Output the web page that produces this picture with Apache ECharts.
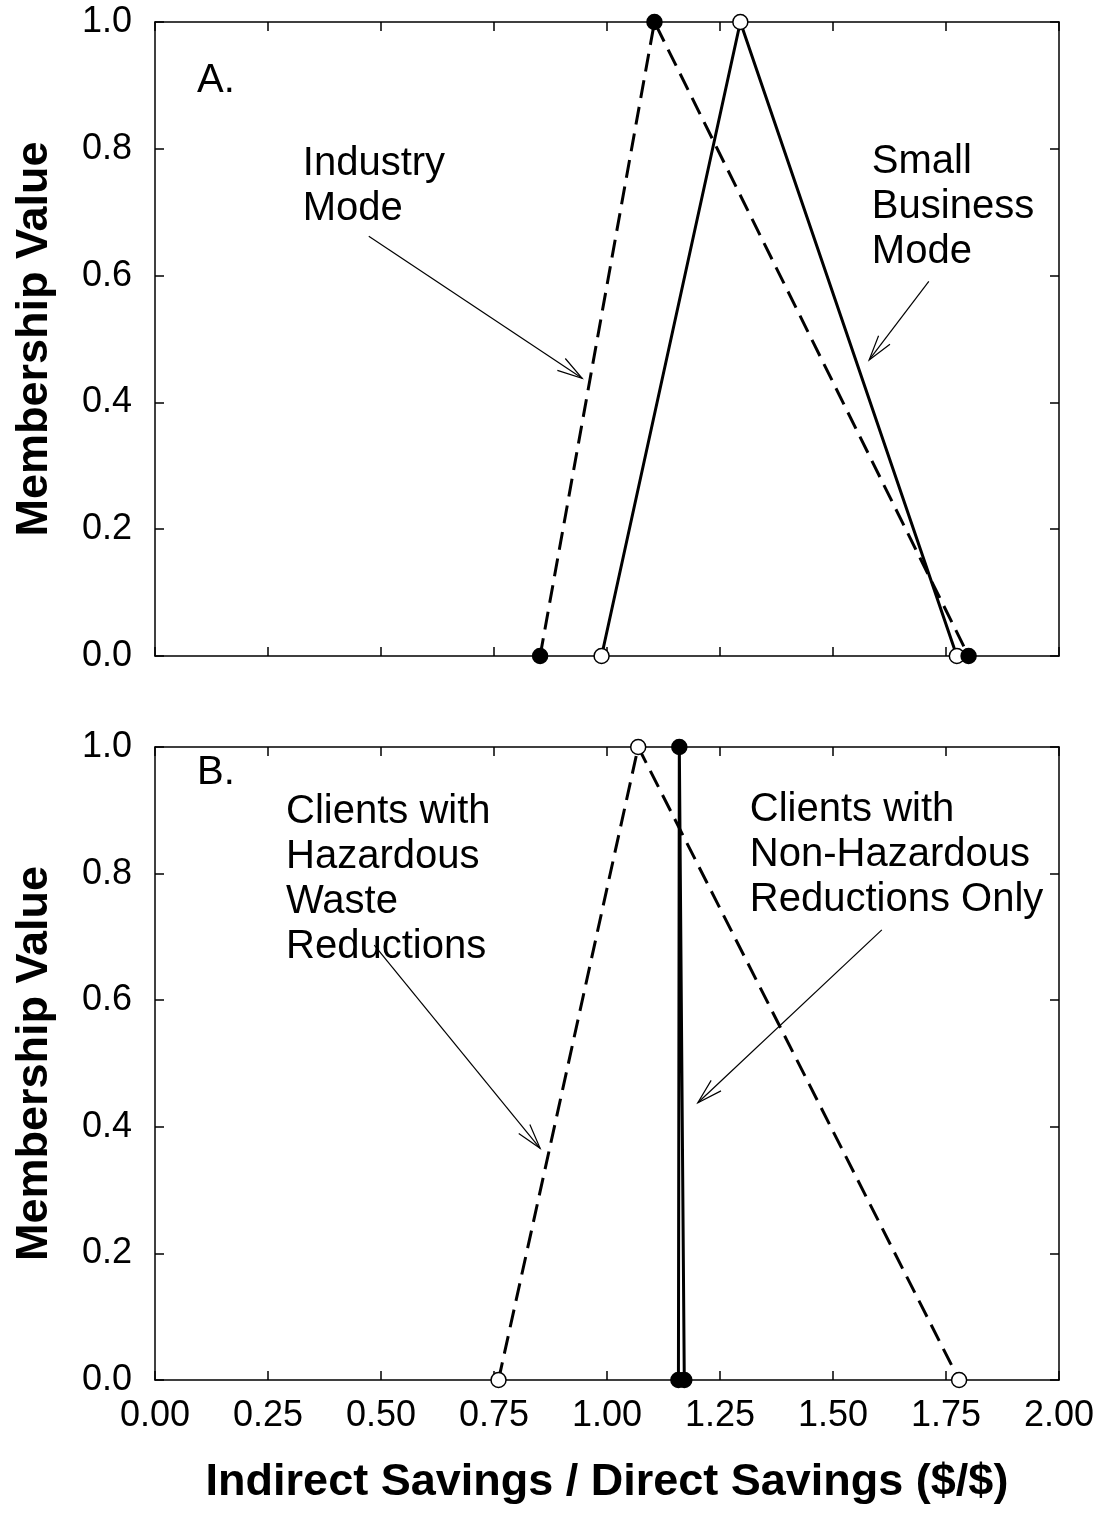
<!DOCTYPE html>
<html>
<head>
<meta charset="utf-8">
<script src="https://cdn.jsdelivr.net/npm/echarts@6/dist/echarts.min.js"></script>
<style>
html,body{margin:0;padding:0;background:#fff;}
#chart{width:1104px;height:1522px;}
</style>
</head>
<body>
<div id="chart"></div>
<script>
// ---- data ----
const xTicks = [0.00, 0.25, 0.50, 0.75, 1.00, 1.25, 1.50, 1.75, 2.00];
const yTicks = [0.0, 0.2, 0.4, 0.6, 0.8, 1.0];

// Panel A
const industryX = [0.852, 1.105, 1.800];
const industryY = [0, 1, 0];
const smallBizX = [0.988, 1.295, 1.774];
const smallBizY = [0, 1, 0];

// Panel B
const hazardousX = [0.760, 1.069, 1.779];
const hazardousY = [0, 1, 0];
const nonHazX = [1.158, 1.160, 1.171];
const nonHazY = [0, 1, 0];

// annotation labels (panel, data-anchor of text block top-left)
const labels = [
  {grid: 0, text: 'A.', at: [0.093, 0.942]},
  {grid: 0, text: 'Industry\nMode', at: [0.327, 0.812]},
  {grid: 0, text: 'Small\nBusiness\nMode', at: [1.586, 0.815]},
  {grid: 1, text: 'B.', at: [0.093, 0.994]},
  {grid: 1, text: 'Clients with\nHazardous\nWaste\nReductions', at: [0.290, 0.933]},
  {grid: 1, text: 'Clients with\nNon-Hazardous\nReductions Only', at: [1.316, 0.936]}
];
// arrows: from -> to, data coords
const arrows = [
  {grid: 0, from: [0.473, 0.662], to: [0.945, 0.438]},
  {grid: 0, from: [1.712, 0.591], to: [1.580, 0.467]},
  {grid: 1, from: [0.485, 0.687], to: [0.852, 0.366]},
  {grid: 1, from: [1.608, 0.711], to: [1.201, 0.438]}
];

const pairs = (xs, ys) => xs.map((x, i) => [x, ys[i]]);

const FONT = '"Liberation Sans", Arial, Helvetica, sans-serif';
const black = '#000';

const chart = echarts.init(document.getElementById('chart'), null, {renderer: 'canvas'});

const grids = [
  {left: 155, top: 22, width: 904, height: 634},
  {left: 155, top: 747, width: 904, height: 633}
];

function xAxisFor(gi, pos, showLabels, withName) {
  return {
    type: 'value', gridIndex: gi, position: pos,
    min: xTicks[0], max: xTicks[xTicks.length - 1], interval: xTicks[1] - xTicks[0],
    axisLine: {show: true, onZero: false, lineStyle: {color: black, width: 1.5}},
    axisTick: {show: true, inside: true, length: 9, lineStyle: {color: black, width: 1.5}},
    axisLabel: {show: showLabels, color: black, fontSize: 36, fontFamily: FONT, margin: 18,
      formatter: v => v.toFixed(2)},
    splitLine: {show: false},
    name: withName ? 'Indirect Savings / Direct Savings ($/$)' : '',
    nameLocation: 'middle', nameGap: 80,
    nameTextStyle: {color: black, fontSize: 45, fontWeight: 'bold', fontFamily: FONT}
  };
}
function yAxisFor(gi, pos, showLabels) {
  return {
    type: 'value', gridIndex: gi, position: pos,
    min: yTicks[0], max: yTicks[yTicks.length - 1], interval: yTicks[1] - yTicks[0],
    axisLine: {show: true, onZero: false, lineStyle: {color: black, width: 1.5}},
    axisTick: {show: true, inside: true, length: 9, lineStyle: {color: black, width: 1.5}},
    axisLabel: {show: showLabels, color: black, fontSize: 36, fontFamily: FONT, margin: 23,
      formatter: v => v.toFixed(1)},
    splitLine: {show: false},
    name: showLabels ? 'Membership Value' : '',
    nameLocation: 'middle', nameGap: 98, nameRotate: 90,
    nameTextStyle: {color: black, fontSize: 45, fontWeight: 'bold', fontFamily: FONT}
  };
}

function lineSeries(name, xi, yi, data, dashed, filled, z) {
  return {
    name, type: 'line', xAxisIndex: xi, yAxisIndex: yi, data,
    symbol: 'circle', symbolSize: 15, showSymbol: true, z: z,
    lineStyle: {color: black, width: 3, type: dashed ? [18, 9] : 'solid'},
    itemStyle: {color: filled ? black : '#fff', borderColor: black, borderWidth: 1.5},
    animation: false, clip: false
  };
}

chart.setOption({
  animation: false,
  backgroundColor: '#fff',
  grid: grids,
  xAxis: [
    xAxisFor(0, 'bottom', false, false),
    xAxisFor(0, 'top', false, false),
    xAxisFor(1, 'bottom', true, true),
    xAxisFor(1, 'top', false, false)
  ],
  yAxis: [
    yAxisFor(0, 'left', true),
    yAxisFor(0, 'right', false),
    yAxisFor(1, 'left', true),
    yAxisFor(1, 'right', false)
  ],
  series: [
    lineSeries('Small Business Mode', 0, 0, pairs(smallBizX, smallBizY), false, false, 2),
    lineSeries('Industry Mode', 0, 0, pairs(industryX, industryY), true, true, 3),
    lineSeries('Hazardous', 2, 2, pairs(hazardousX, hazardousY), true, false, 2),
    lineSeries('Non-Hazardous', 2, 2, pairs(nonHazX, nonHazY), false, true, 3)
  ]
});

// annotations placed via the chart's own coordinate conversion
const gElems = [];
labels.forEach(l => {
  const p = chart.convertToPixel({gridIndex: l.grid}, l.at);
  gElems.push({
    type: 'text', x: p[0], y: p[1], z: 10,
    style: {text: l.text, fill: black, fontSize: 40, fontFamily: FONT,
      lineHeight: 45, align: 'left', verticalAlign: 'top'}
  });
});
arrows.forEach(a => {
  const p1 = chart.convertToPixel({gridIndex: a.grid}, a.from);
  const p2 = chart.convertToPixel({gridIndex: a.grid}, a.to);
  const dx = p2[0] - p1[0], dy = p2[1] - p1[1];
  const len = Math.hypot(dx, dy);
  const ux = -dx / len, uy = -dy / len;
  const L = 26, ang = 16 * Math.PI / 180;
  const rot = (t) => [p2[0] + L * (ux * Math.cos(t) - uy * Math.sin(t)),
                      p2[1] + L * (ux * Math.sin(t) + uy * Math.cos(t))];
  gElems.push({type: 'line', z: 10, shape: {x1: p1[0], y1: p1[1], x2: p2[0], y2: p2[1]},
    style: {stroke: black, lineWidth: 1.2}});
  gElems.push({type: 'polyline', z: 10, shape: {points: [rot(ang), p2, rot(-ang)]},
    style: {stroke: black, lineWidth: 1.2, fill: null}});
});
chart.setOption({graphic: gElems});
</script>
</body>
</html>
